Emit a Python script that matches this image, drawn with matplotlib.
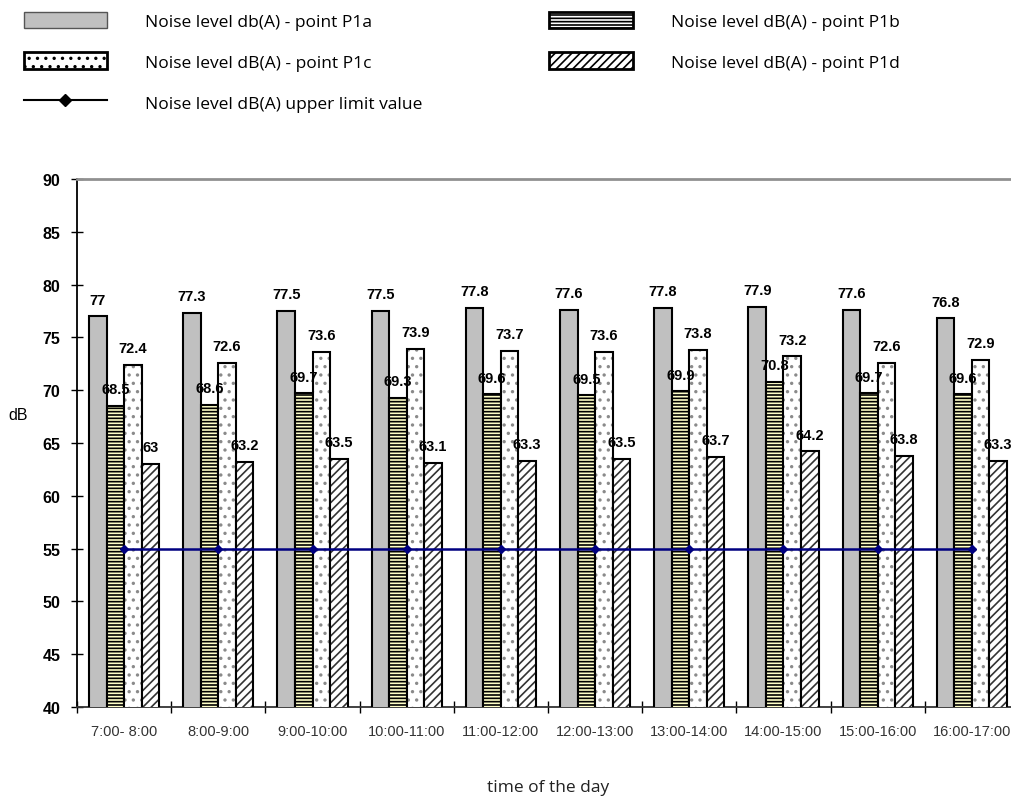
import numpy as np
import matplotlib
matplotlib.use("Agg")
import matplotlib.pyplot as plt
from matplotlib.patches import Patch
from matplotlib.lines import Line2D

# data
periods = ["7:00- 8:00", "8:00-9:00", "9:00-10:00", "10:00-11:00", "11:00-12:00",
           "12:00-13:00", "13:00-14:00", "14:00-15:00", "15:00-16:00", "16:00-17:00"]
p1a = [77, 77.3, 77.5, 77.5, 77.8, 77.6, 77.8, 77.9, 77.6, 76.8]
p1b = [68.5, 68.6, 69.7, 69.3, 69.6, 69.5, 69.9, 70.8, 69.7, 69.6]
p1c = [72.4, 72.6, 73.6, 73.9, 73.7, 73.6, 73.8, 73.2, 72.6, 72.9]
p1d = [63, 63.2, 63.5, 63.1, 63.3, 63.5, 63.7, 64.2, 63.8, 63.3]
limit = [55] * 10

# name, values, face colour, hatch, hatch colour
series = [
    ("Noise level db(A) - point P1a", p1a, "#c0c0c0", None, "black"),
    ("Noise level dB(A) - point P1b", p1b, "#ffffc8", "-----", "black"),
    ("Noise level dB(A) - point P1c", p1c, "white", "..", "#8a8a8a"),
    ("Noise level dB(A) - point P1d", p1d, "white", "////", "#333333"),
]

plt.rcParams["hatch.linewidth"] = 1.2
plt.rcParams["font.family"] = ["Liberation Sans", "DejaVu Sans"]
legend_font = ["Open Sans", "DejaVu Sans"]

fig = plt.figure(figsize=(10.12, 8.03), dpi=100)
ax = fig.add_axes([77 / 1012, 1 - 708 / 803, 942 / 1012, 528 / 803])

x = np.arange(len(periods))
w = 0.186
for i, (name, vals, fc, hatch, hc) in enumerate(series):
    pos = x + (i - 1.5) * w
    # fill + hatch first, then the black outline on top
    ax.bar(pos, vals, w, color=fc, edgecolor=hc, linewidth=0, hatch=hatch, zorder=3 + i)
    ax.bar(pos, vals, w, fill=False, edgecolor="black", linewidth=1.5, zorder=3 + i)
    for xp, v in zip(pos, vals):
        ax.annotate(f"{v:g}", (xp, v), xytext=(0, 7), textcoords="offset points",
                    ha="center", va="bottom", fontsize=10.5, fontweight="bold",
                    zorder=10)

ax.plot(x, limit, color="#000080", lw=1.8, marker="D", ms=4.5, zorder=20)

ax.set_ylim(40, 90)
ax.set_xlim(-0.5, len(periods) - 0.5)
ax.set_yticks(np.arange(40, 91, 5))
ax.set_xticks(x)
ax.set_xticklabels(periods, fontsize=10.5, color="#333333")
ax.set_xticks(np.arange(-0.5, len(periods), 1), minor=True)
ax.tick_params(axis="x", which="major", length=0, pad=12)
ax.tick_params(axis="x", which="minor", direction="inout", length=8, width=1)
ax.tick_params(axis="y", direction="inout", length=8, width=1, labelsize=11.5, pad=8)
for t in ax.get_yticklabels():
    t.set_fontweight("bold")

ax.spines["right"].set_visible(False)
ax.spines["top"].set_color("#909090")
ax.spines["top"].set_linewidth(2)
ax.spines["left"].set_linewidth(1.3)
ax.spines["bottom"].set_linewidth(1.3)
ax.spines["bottom"].set_color("#333333")

ax.set_ylabel("dB", rotation=0, fontsize=11.5)
ax.yaxis.set_label_coords(-0.062, 0.54)
ax.set_xlabel("time of the day", fontsize=12.5, family=legend_font,
              labelpad=30, color="#222222")

handles = [
    Patch(facecolor="#c0c0c0", edgecolor="#555555", linewidth=1),
    Patch(facecolor="white", edgecolor="black", linewidth=2, hatch=".."),
    Line2D([0], [0], color="black", lw=1.5, marker="D", ms=6),
    Patch(facecolor="white", edgecolor="black", linewidth=2, hatch="-----"),
    Patch(facecolor="white", edgecolor="black", linewidth=2, hatch="////"),
]
labels = [series[0][0], series[2][0], "Noise level dB(A) upper limit value",
          series[1][0], series[3][0]]
fig.legend(handles, labels, loc="upper left", bbox_to_anchor=(15 / 1012, 1 - 4 / 803),
           ncol=2, frameon=False, borderpad=0, handlelength=4.8, handleheight=1.1,
           handletextpad=2.2, labelspacing=1.3, columnspacing=7.3,
           prop={"family": legend_font, "size": 12.5})

fig.savefig("out.png", dpi=100)
